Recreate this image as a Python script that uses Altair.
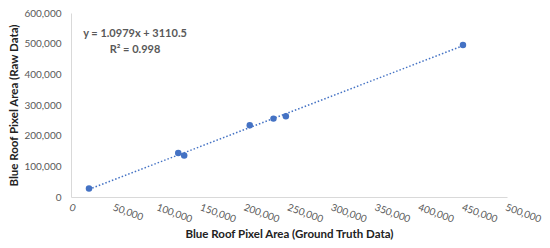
import altair as alt
import pandas as pd

# Data
ground_truth = [20650, 123000, 129800, 205000, 232200, 246400, 449500]
raw_data = [27400, 143500, 135000, 233800, 255600, 263100, 495600]
x_ticks = [0, 50000, 100000, 150000, 200000, 250000, 300000, 350000, 400000, 450000, 500000]
y_ticks = [0, 100000, 200000, 300000, 400000, 500000, 600000]
equation = "y = 1.0979x + 3110.5\nR² = 0.998"

df = pd.DataFrame({"gt": ground_truth, "raw": raw_data})

FONT = "Lato"
BLUE = "#4472C4"
GRAY = "#595959"

x_enc = alt.X(
    "gt:Q",
    scale=alt.Scale(domain=[0, 500000], nice=False),
    axis=alt.Axis(
        values=x_ticks, format=",.0f", title="Blue Roof Pixel Area (Ground Truth Data)",
        labelAngle=20, labelAlign="left", labelBaseline="top", labelPadding=5,
        titlePadding=4, labelOverlap=False,
    ),
)
y_enc = alt.Y(
    "raw:Q",
    scale=alt.Scale(domain=[0, 600000], nice=False),
    axis=alt.Axis(
        values=y_ticks, format=",.0f", title="Blue Roof Pixel Area (Raw Data)",
        labelPadding=10, titlePadding=4, labelOverlap=False,
    ),
)

points = alt.Chart(df).mark_circle(size=42, color=BLUE, opacity=1).encode(x=x_enc, y=y_enc)

trend = (
    alt.Chart(df)
    .transform_regression("gt", "raw")
    .mark_line(color=BLUE, strokeWidth=1.5, strokeDash=[1.5, 2])
    .encode(x=x_enc, y=y_enc)
)

eq = (
    alt.Chart(pd.DataFrame({"t": [equation]}))
    .mark_text(
        lineBreak="\n", align="center", baseline="top", font=FONT, fontSize=11,
        fontWeight="bold", color=GRAY, lineHeight=16,
    )
    .encode(text="t:N", x=alt.value(64), y=alt.value(15))
)

chart = (
    alt.layer(trend, points, eq)
    .properties(
        width=534, height=232,
        autosize=alt.AutoSizeParams(type="fit", contains="padding"),
        padding=0,
    )
    .configure_view(stroke=None)
    .configure_axis(
        grid=False, ticks=False, domainColor="#D9D9D9", domainWidth=1,
        labelFont=FONT, labelFontSize=10, labelColor=GRAY,
        titleFont=FONT, titleFontSize=11.5, titleFontWeight="bold", titleColor="#222222",
    )
)

chart.save("out.html", embed_options={"renderer": "svg", "actions": False})
